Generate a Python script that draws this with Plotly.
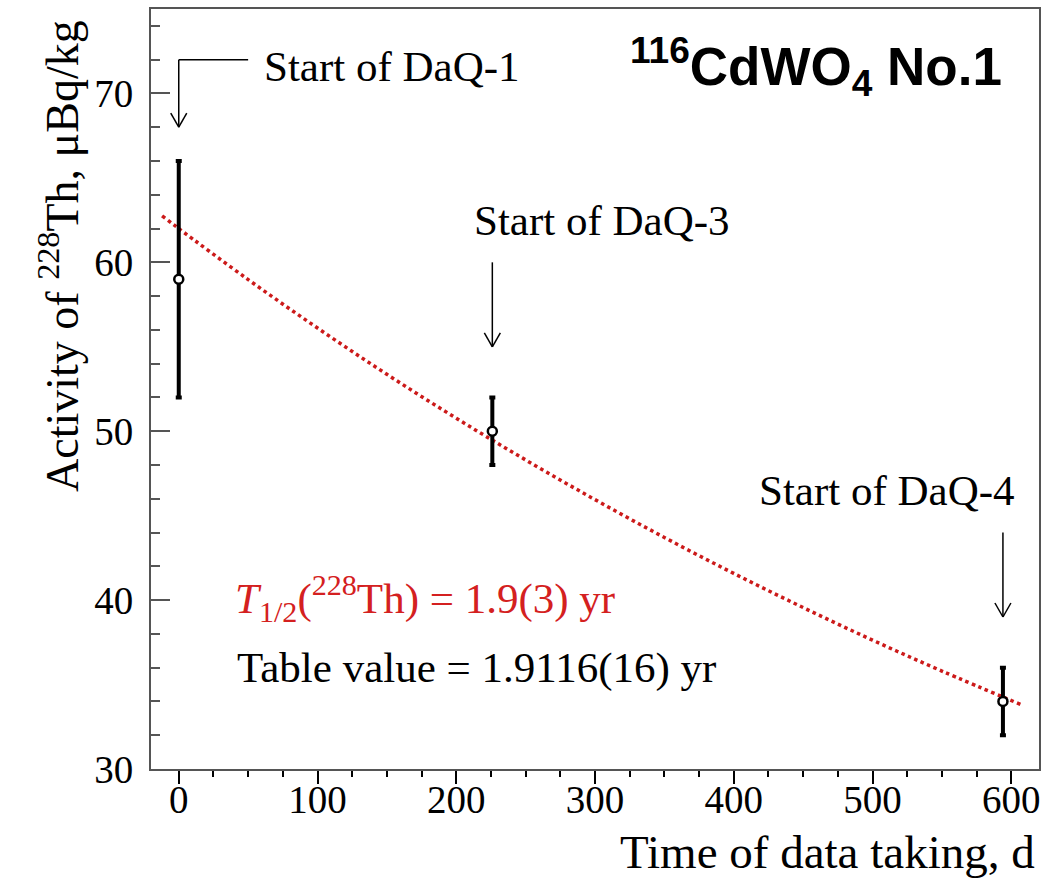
import plotly.graph_objects as go

# ---- data ----
time_d = [0, 226, 594]
activity = [59.0, 50.0, 34.0]
activity_err = [7.0, 2.0, 2.0]

fit_t = [-12, 0, 50, 100, 150, 200, 250, 300, 350, 400, 450, 500, 550, 608]
fit_act = [62.75, 62.0, 58.98, 56.11, 53.37, 50.77, 48.30, 45.95, 43.71, 41.58,
           39.56, 37.63, 35.80, 33.78]

arrow_x = [0, 226, 594]
arrow_top = [72.0, 60.0, 44.0]
arrow_tip = [68.0, 55.0, 39.0]
arrow1_hook_x = 50

labels = ["Start of DaQ-1", "Start of DaQ-3", "Start of DaQ-4"]
label_x = [60, 211, 416.5]
label_y = [71.6, 62.5, 46.5]

x_ticks = [0, 100, 200, 300, 400, 500, 600]
y_ticks = [30, 40, 50, 60, 70]

SERIF = "Liberation Serif, Times New Roman, serif"
SANS = "Liberation Sans, Arial, sans-serif"
AXC = "#555555"

fig = go.Figure()

fig.add_trace(go.Scatter(
    x=fit_t, y=fit_act, mode="lines", line_shape="spline",
    line=dict(color="#cc1a1a", width=3.5, dash="dot"),
    hoverinfo="skip", showlegend=False))

fig.add_trace(go.Scatter(
    x=time_d, y=activity, mode="markers",
    error_y=dict(type="data", array=activity_err, visible=True,
                 color="black", thickness=4, width=3),
    marker=dict(symbol="circle", size=9, color="white",
                line=dict(color="black", width=2.5)),
    showlegend=False))

shapes = []
for ax, at, tip in zip(arrow_x, arrow_top, arrow_tip):
    shapes.append(dict(type="line", xref="x", yref="y", x0=ax, x1=ax, y0=at, y1=tip,
                       line=dict(color="black", width=1.5)))
    for dx in (-8, 8):
        shapes.append(dict(type="line", xref="x", yref="y",
                           xsizemode="pixel", ysizemode="pixel",
                           xanchor=ax, yanchor=tip,
                           x0=0, y0=0, x1=dx, y1=14,
                           line=dict(color="black", width=1.5)))
shapes.append(dict(type="line", xref="x", yref="y", x0=arrow_x[0], x1=arrow1_hook_x,
                   y0=arrow_top[0], y1=arrow_top[0], line=dict(color="black", width=1.5)))

annotations = []
for t, lx, ly in zip(labels, label_x, label_y):
    annotations.append(dict(text=t, x=lx, y=ly, xref="x", yref="y",
                            xanchor="left", yanchor="middle", showarrow=False,
                            font=dict(family=SERIF, size=43, color="black")))

annotations.append(dict(
    text="<i>T</i><sub>1/2</sub>(<sup>228</sup>Th) = 1.9(3) yr",
    x=39, y=40.1, xref="x", yref="y", xanchor="left", yanchor="middle",
    showarrow=False, font=dict(family=SERIF, size=43, color="#d42020")))
annotations.append(dict(
    text="Table value = 1.9116(16) yr",
    x=40.5, y=36.0, xref="x", yref="y", xanchor="left", yanchor="middle",
    showarrow=False, font=dict(family=SERIF, size=43, color="black")))
annotations.append(dict(
    text="<b><sup>116</sup>CdWO<sub>4</sub> No.1</b>",
    x=324, y=71.6, xref="x", yref="y", xanchor="left", yanchor="middle",
    showarrow=False, font=dict(family=SANS, size=53, color="black")))
annotations.append(dict(
    text="Activity of <sup>228</sup>Th, μBq/kg",
    x=-0.103, y=0.6745, xref="paper", yref="paper", xanchor="center", yanchor="middle",
    textangle=-90, showarrow=False, font=dict(family=SERIF, size=46, color="black")))
annotations.append(dict(
    text="Time of data taking, d",
    x=0.9977, y=-0.109, xref="paper", yref="paper", xanchor="right", yanchor="middle",
    showarrow=False, font=dict(family=SERIF, size=47, color="black")))

fig.update_layout(
    width=1052, height=882,
    margin=dict(l=151, r=13, t=7, b=113),
    paper_bgcolor="white", plot_bgcolor="white",
    shapes=shapes, annotations=annotations,
    xaxis=dict(range=[-20, 620], tickvals=x_ticks, ticks="outside", ticklen=13,
               tickwidth=2, tickcolor="black", ticklabelstandoff=-18,
               minor=dict(dtick=25, tick0=0, ticks="outside", ticklen=6,
                          tickwidth=2, tickcolor="black"),
               showline=True, linecolor=AXC, linewidth=2, mirror=True,
               showgrid=False, zeroline=False,
               tickfont=dict(family=SERIF, size=39, color="black")),
    yaxis=dict(range=[30, 75], tickvals=y_ticks, ticks="inside", ticklen=19,
               tickwidth=2, tickcolor=AXC, ticklabelstandoff=8,
               minor=dict(dtick=2, tick0=30, ticks="inside", ticklen=9,
                          tickwidth=2, tickcolor=AXC),
               showline=True, linecolor=AXC, linewidth=2, mirror=True,
               showgrid=False, zeroline=False,
               tickfont=dict(family=SERIF, size=39, color="black")),
)

fig.write_html("out.html", config={"displayModeBar": False},
               post_script="document.body.style.margin='0px';")
